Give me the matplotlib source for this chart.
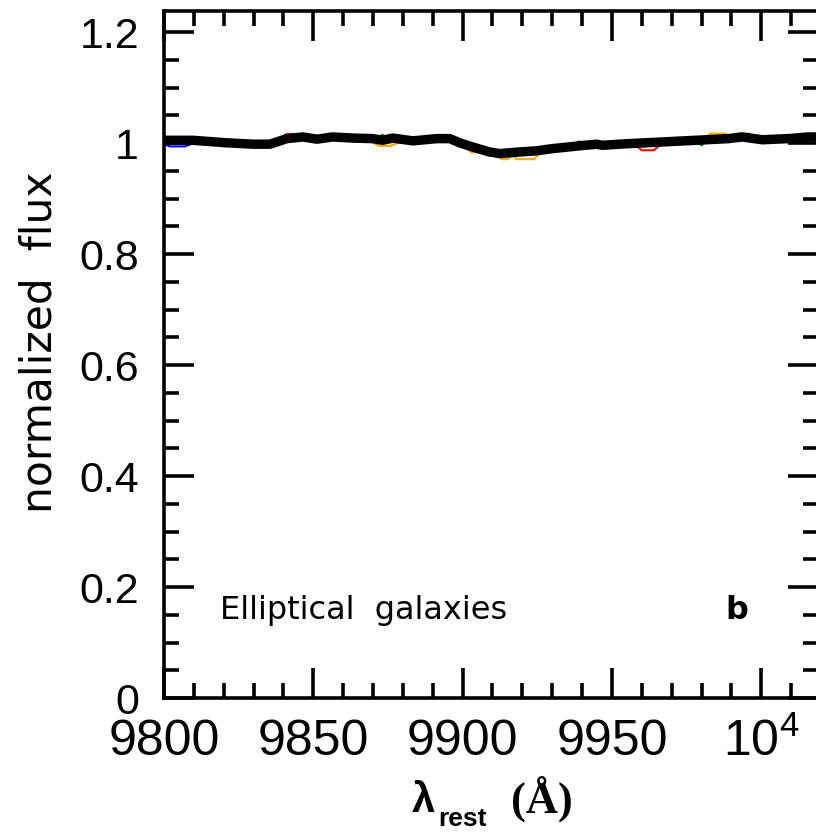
import numpy as np
import matplotlib.pyplot as plt
from matplotlib.ticker import MultipleLocator, FixedLocator, FixedFormatter

plt.rcParams['font.family'] = ['Liberation Sans', 'DejaVu Sans']
plt.rcParams['mathtext.fontset'] = 'custom'
plt.rcParams['mathtext.rm'] = 'Liberation Sans'
plt.rcParams['mathtext.bf'] = 'Liberation Sans:bold'

nan = np.nan

# mean spectrum (black)
wave = [9800, 9809.7, 9821, 9829.8, 9835.5, 9841.1, 9846.5, 9851.2, 9856.5,
        9863.2, 9869.9, 9873.2, 9876.6, 9883.3, 9891.3, 9895.7, 9899, 9903.3,
        9909, 9912.4, 9919.1, 9924.7, 9930.1, 9939.1, 9944.8, 9946.8, 9955.5,
        9966.9, 9977.9, 9989, 9993.6, 10000.3, 10009, 10015.7, 10020]
flux = [1.005, 1.005, 1.0005, 0.998, 0.998, 1.008, 1.011, 1.007, 1.011,
        1.009, 1.008, 1.005, 1.009, 1.004, 1.008, 1.008, 1.0005, 0.993,
        0.984, 0.981, 0.984, 0.986, 0.990, 0.995, 0.998, 0.996, 0.999,
        1.002, 1.005, 1.008, 1.011, 1.006, 1.008, 1.011, 1.011]

# individual spectra peeking out from under the black line (nan = gap)
blue_w = [9800, 9802, 9807, 9810]
blue_f = [0.998, 0.994, 0.994, 1.000]
red_w = [9839, 9841, 9845, 9848, nan, 9958, 9960, 9964, 9966]
red_f = [1.008, 1.016, 1.016, 1.009, nan, 0.996, 0.987, 0.987, 0.996]
orange_w = [9869, 9872, 9876, 9879, nan, 9901, 9903, 9905, 9907, nan,
            9911, 9913, 9915, 9917, 9918, 9924, 9926, nan,
            9981, 9983, 9988, 9990, 9992, 9996, 9998]
orange_f = [1.004, 0.995, 0.995, 1.002, nan, 0.993, 0.983, 0.983, 0.988, nan,
            0.984, 0.971, 0.971, 0.978, 0.971, 0.971, 0.984, nan,
            1.008, 1.017, 1.017, 1.009, 1.017, 1.017, 1.009]
green_w = [9872, 9873, 9875, nan, 9903, 9904, 9906, nan, 9938, 9939, 9941, nan,
           9979, 9980, 9981]
green_f = [1.010, 1.015, 1.010, nan, 0.990, 0.987, 0.990, nan, 1.000, 1.003, 1.000, nan,
           1.000, 0.996, 1.000]

xticks = [9800, 9850, 9900, 9950, 10000]
xticklabels = ['9800', '9850', '9900', '9950', r'10$^{\mathregular{4}}$']
yticks = [0, 0.2, 0.4, 0.6, 0.8, 1.0, 1.2]
yticklabels = ['0', '0.2', '0.4', '0.6', '0.8', '1', '1.2']

fig = plt.figure(figsize=(8.16, 8.34), dpi=100, facecolor='white')
ax = fig.add_axes([164 / 816, 136 / 834, 654 / 816, 687 / 834])

ax.plot(blue_w, blue_f, color='blue', lw=1.5)
ax.plot(red_w, red_f, color='red', lw=1.5)
ax.plot(orange_w, orange_f, color='orange', lw=1.5)
ax.plot(green_w, green_f, color='green', lw=1.5)
ax.plot(wave, flux, color='black', lw=6.8, solid_joinstyle='round')

ax.set_xlim(9800, 10019)
ax.set_ylim(0, 1.238)

ax.xaxis.set_major_locator(FixedLocator(xticks))
ax.xaxis.set_major_formatter(FixedFormatter(xticklabels))
ax.xaxis.set_minor_locator(MultipleLocator(10))
ax.yaxis.set_major_locator(FixedLocator(yticks))
ax.yaxis.set_major_formatter(FixedFormatter(yticklabels))
ax.yaxis.set_minor_locator(MultipleLocator(0.05))

for s in ax.spines.values():
    s.set_linewidth(2.6)
ax.tick_params(which='both', direction='in', top=True, right=True, width=2.6)
ax.tick_params(which='major', length=21.6)
ax.tick_params(axis='x', which='major', pad=15, labelsize=36)
ax.tick_params(axis='y', which='major', pad=18, labelsize=31)
ax.tick_params(which='minor', length=10.8)

fig.text(40 / 816, 1 - 342 / 834, 'normalized  flux', rotation=90,
         family='DejaVu Sans', ha='center', va='center', fontsize=30.5)

# x label: lambda_rest (A)
fig.text(423 / 816, 1 - 801 / 834, 'λ', fontweight='bold', fontsize=30,
         ha='center', va='center')
fig.text(462 / 816, 1 - 819 / 834, 'rest', fontweight='bold', fontsize=19,
         ha='center', va='center')
fig.text(542 / 816, 1 - 799 / 834, '(Å)', family='Liberation Serif',
         fontweight='bold', fontsize=32, ha='center', va='center')

ax.text(0.086, 0.115, 'Elliptical  galaxies', transform=ax.transAxes,
        family='DejaVu Sans', fontsize=23, ha='left', va='baseline')
ax.text(0.858, 0.115, 'b', transform=ax.transAxes, family='DejaVu Sans',
        fontsize=23, fontweight='bold', ha='left', va='baseline')

fig.savefig('out.png', dpi=100, facecolor='white')
